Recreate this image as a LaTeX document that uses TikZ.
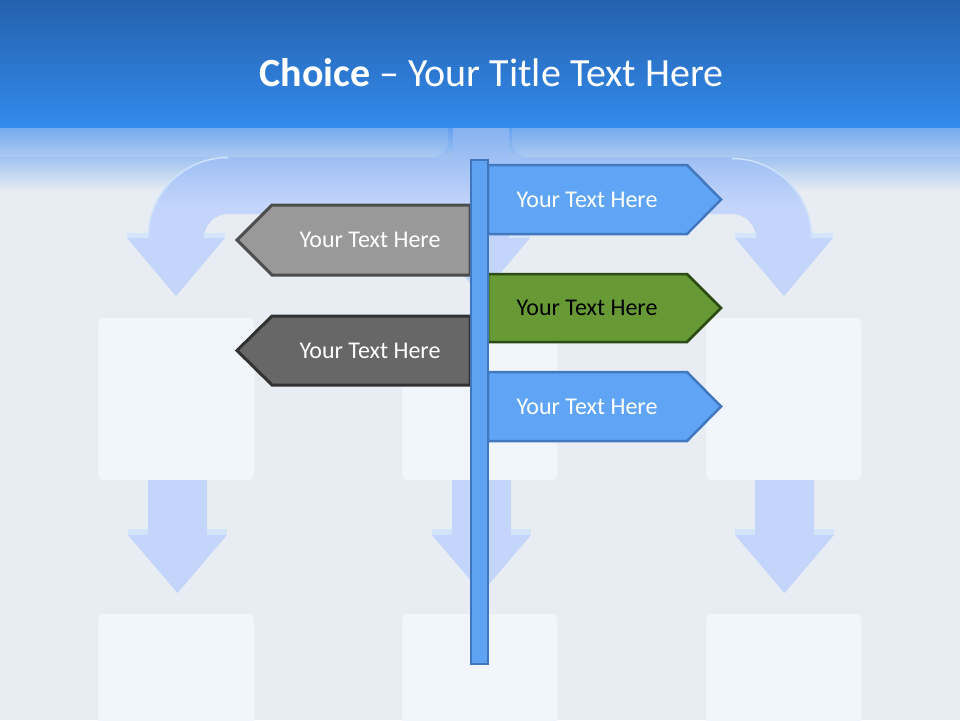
\documentclass[tikz,border=0pt]{standalone}
\usepackage{fontspec}
\setmainfont{Carlito}
\definecolor{bgA}{HTML}{E8EDF3}
\definecolor{titleTop}{HTML}{2461AD}
\definecolor{titleBot}{HTML}{338BEC}
\definecolor{fadeTop}{HTML}{5E9DEE}
\definecolor{fadeMid}{HTML}{B2CCF3}
\definecolor{arrowTop}{HTML}{80AEF0}
\definecolor{arrowMid}{HTML}{B3CAF6}
\definecolor{arrowBlue}{HTML}{C3D5FA}
\definecolor{arrowEdge}{HTML}{CFE2FB}
\definecolor{stripBlue}{HTML}{D2E5F9}
\definecolor{boxFill}{HTML}{F1F6FC}
\definecolor{signBlue}{HTML}{60A5F5}
\definecolor{signBlueLine}{HTML}{4178BF}
\definecolor{signGreen}{HTML}{679A34}
\definecolor{signGreenLine}{HTML}{2C4A14}
\definecolor{signGray}{HTML}{999999}
\definecolor{signGrayLine}{HTML}{4D4D4D}
\definecolor{signDark}{HTML}{676767}
\definecolor{signDarkLine}{HTML}{323232}
\definecolor{poleFill}{HTML}{5FA3F2}
\definecolor{poleLine}{HTML}{3F76BD}
\tikzset{
  bgbox/.style={fill=boxFill, rounded corners=5pt},
  bgarrow/.style={fill=arrowBlue},
  earstrip/.style={fill=stripBlue},
  bluesign/.style={fill=signBlue, draw=signBlueLine, line width=2.5pt, line join=miter},
  greensign/.style={fill=signGreen, draw=signGreenLine, line width=2.5pt, line join=miter},
  graysign/.style={fill=signGray, draw=signGrayLine, line width=3pt, line join=miter},
  darksign/.style={fill=signDark, draw=signDarkLine, line width=3pt, line join=miter},
  signtext/.style={font=\fontsize{24}{28}\selectfont, inner sep=0pt},
}
\def\bigarrowpath{(148,238) arc[start angle=180, end angle=270, radius=80]
  -- (453,158) -- (453,110) -- (509,110) -- (509,158) -- (732,158)
  arc[start angle=270, end angle=360, radius=80]
  -- (833,238) -- (784,296) -- (735,238) -- (756,238)
  arc[start angle=0, end angle=-90, radius=24]
  -- (509,214) -- (509,238) -- (530,238) -- (481,296) -- (432,238) -- (453,238)
  -- (453,214) -- (228,214)
  arc[start angle=270, end angle=180, radius=24]
  -- (225,238) -- (176,296) -- (127,238) -- cycle}
\begin{document}
\begin{tikzpicture}[x=1pt,y=-1pt]
\useasboundingbox (0,0) rectangle (960,720);
% background
\fill[bgA] (0,0) rectangle (960,720);
% fade under the title
\shade[top color=fadeTop, middle color=fadeMid, bottom color=bgA] (0,125) rectangle (960,192);
% big background arrow shape
\fill[bgarrow] \bigarrowpath;
\begin{scope}
  \clip \bigarrowpath;
  \shade[top color=arrowTop, middle color=arrowMid, bottom color=arrowBlue] (0,120) rectangle (960,205);
\end{scope}
\draw[arrowEdge, line width=1.5pt] (148.5,237) arc[start angle=180, end angle=270, radius=79.5];
\draw[arrowEdge, line width=1.5pt] (732,158.5) arc[start angle=270, end angle=360, radius=79.5];
\fill[earstrip] (127,233) rectangle (148,238);
\fill[earstrip] (204,233) rectangle (225,238);
\fill[earstrip] (432,233) rectangle (453,238);
\fill[earstrip] (509,233) rectangle (530,238);
\fill[earstrip] (735,233) rectangle (756,238);
\fill[earstrip] (812,233) rectangle (833,238);
\fill[white, opacity=0.12, rounded corners=16pt] (-30,100) rectangle (448,157);
\fill[white, opacity=0.12, rounded corners=16pt] (512,100) rectangle (990,157);
% title band
\shade[top color=titleTop, bottom color=titleBot] (0,0) rectangle (960,127);
\node[anchor=base, text=white, font=\fontsize{40}{48}\selectfont, inner sep=0pt] (title) at (491.5,86) {\textbf{Choice} – Your Title Text Here};
% boxes, first row
\fill[bgbox] (98,318) rectangle (254,480);
\fill[bgbox] (402,318) rectangle (557,480);
\fill[bgbox] (706,318) rectangle (861,480);
% boxes, second row
\fill[bgbox] (98,614) rectangle (254,740);
\fill[bgbox] (402,614) rectangle (557,740);
\fill[bgbox] (706,614) rectangle (861,740);
% down arrows between rows
\foreach \c in {177.5,481.5,784.5}{
  \fill[bgarrow] (\c-29.5,480) -- (\c+29.5,480) -- (\c+29.5,535) -- (\c+49.5,535)
     -- (\c,593) -- (\c-49.5,535) -- (\c-29.5,535) -- cycle;
  \fill[earstrip] (\c-49.5,529) rectangle (\c-29.5,535);
  \fill[earstrip] (\c+29.5,529) rectangle (\c+49.5,535);
}
% signs
\draw[bluesign] (488,165) -- (687,165) -- (721,199.5) -- (687,234) -- (488,234) -- cycle;
\draw[greensign] (488,274) -- (687,274) -- (721,308) -- (687,342) -- (488,342) -- cycle;
\draw[bluesign] (488,372) -- (687,372) -- (721,406.5) -- (687,441) -- (488,441) -- cycle;
\draw[graysign] (470,205) -- (272,205) -- (237,240) -- (272,275) -- (470,275) -- cycle;
\draw[darksign] (470,316) -- (272,316) -- (237,350.5) -- (272,385) -- (470,385) -- cycle;
% pole
\draw[fill=poleFill, draw=poleLine, line width=2pt] (470.5,160) rectangle (487.5,664);
% sign texts
\node[signtext, text=white] (r1) at (587,199.5) {Your Text Here};
\node[signtext, text=black] (r2) at (587,308) {Your Text Here};
\node[signtext, text=white] (r3) at (587,406.5) {Your Text Here};
\node[signtext, text=white] (l1) at (370,240) {Your Text Here};
\node[signtext, text=white] (l2) at (370,350.5) {Your Text Here};
\end{tikzpicture}
\end{document}
